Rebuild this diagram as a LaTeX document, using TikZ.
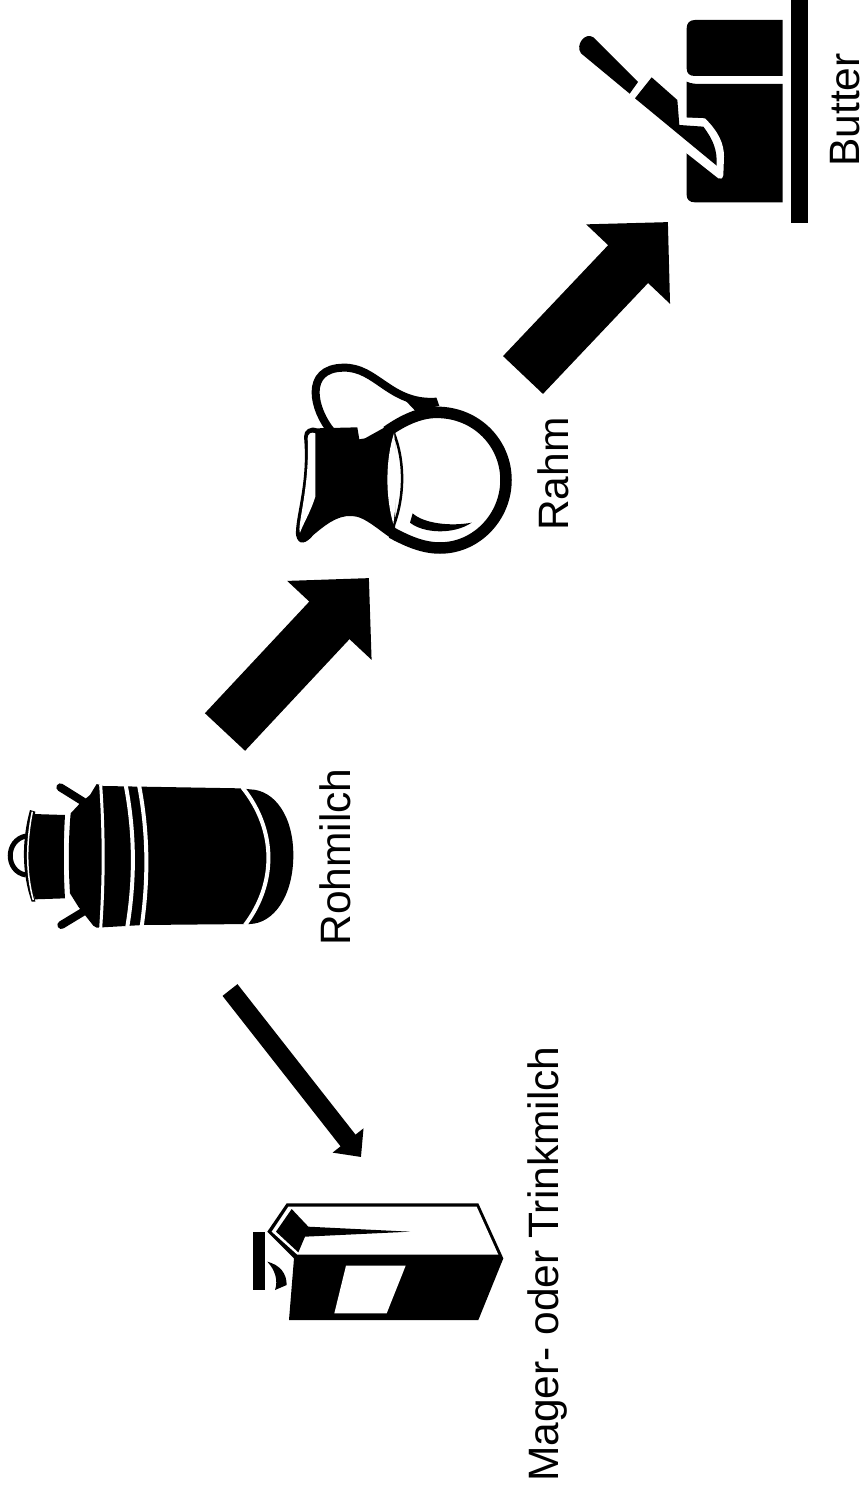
\documentclass[tikz,border=0pt]{standalone}
\usepackage{fontspec}
\setmainfont{Liberation Sans}
\usetikzlibrary{arrows.meta}
\tikzset{
  lbl/.style={rotate=90,inner sep=0pt,font=\fontsize{42.5}{50}\selectfont},
  bigarrow/.style={line width=55pt,-{Triangle[length=58pt,width=112pt]}},
  thinarrow/.style={line width=19pt,-{Triangle[length=21pt,width=38pt]}},
  zoomed/.style={scale=0.33333}
}
\begin{document}
\begin{tikzpicture}[x=1pt,y=-1pt]
\useasboundingbox (0,0) rectangle (863,1495);
% labels
\node[lbl] (rohmilch) at (335,857) {Rohmilch};
\node[lbl] (rahm) at (553,474) {Rahm};
\node[lbl] (butter) at (845,110) {Butter};
\node[lbl] (trinkmilch) at (548,1264) {Mager- oder Trinkmilch};
% arrows
\coordinate (A1) at (225,732);
\coordinate (A2) at (369,578);
\coordinate (B1) at (523,375);
\coordinate (B2) at (668,222);
\coordinate (C1) at (230,990);
\coordinate (C2) at (361,1157);
\draw[bigarrow] (A1) -- (A2);
\draw[bigarrow] (B1) -- (B2);
\draw[thinarrow] (C1) -- (C2);
% can
\begin{scope}[shift={(0,760)},zoomed]
\fill (290,72) -- (310,78) -- (720,85) -- (750,88) .. controls (825,90) and (880,170) .. (880,285) .. controls (880,410) and (820,490) .. (750,492) -- (430,495) -- (290,503) -- (280,497) -- (235,440) -- (210,400) .. controls (205,320) and (205,240) .. (212,160) -- (240,130) -- (270,105) -- cycle;
\draw[line width=8pt,line cap=round] (181,82) -- (250,125);
\draw[line width=8pt,line cap=round] (184,495) -- (250,455);
\fill (100,162) -- (195,165) .. controls (190,250) and (190,330) .. (195,415) -- (105,418) .. controls (85,340) and (85,240) .. (100,162);
\draw[line width=5pt] (78,228) .. controls (15,240) and (15,335) .. (78,345);
\fill (90,150) -- (106,155) .. controls (90,250) and (90,340) .. (106,425) -- (95,425) .. controls (65,340) and (65,240) .. (90,150);
\draw[white,line width=1.5pt] (97,155) .. controls (78,250) and (78,340) .. (100,420);
\draw[white,line width=3pt] (302,75) .. controls (312,220) and (312,360) .. (302,505);
\draw[white,line width=4pt] (377,75) .. controls (405,220) and (405,360) .. (382,500);
\draw[white,line width=4pt] (417,75) .. controls (445,220) and (445,360) .. (425,500);
\draw[white,line width=4pt] (727,82) .. controls (830,210) and (830,370) .. (735,495);
\end{scope}
% jug
\begin{scope}[shift={(280,350)},zoomed]
\draw[line width=8pt] (155,245) .. controls (100,180) and (70,55) .. (190,53) .. controls (290,50) and (330,165) .. (470,155);
\fill (375,150) -- (470,145) -- (478,168) -- (440,175) -- (410,187) -- cycle;
\draw[line width=11.5pt] (320,245) .. controls (370,210) and (420,187) .. (470,187) .. controls (590,187) and (678,280) .. (678,390) .. controls (678,500) and (590,594) .. (480,594) .. controls (430,594) and (385,575) .. (335,548);
\fill (72,260) .. controls (72,240) and (90,228) .. (110,235) -- (232,232) -- (238,268) -- (255,265) -- (345,215) -- (345,572) .. controls (300,545) and (255,498) .. (215,498) .. controls (170,495) and (130,530) .. (100,555) .. controls (80,580) and (55,590) .. (48,555) .. controls (45,500) and (85,400) .. (72,260);
\fill[white] (83,265) .. controls (83,250) and (95,245) .. (106,250) -- (106,440) .. controls (90,490) and (70,520) .. (60,548) .. controls (50,530) and (90,410) .. (83,265);
\draw[line width=2.5pt] (340,245) .. controls (375,330) and (375,440) .. (340,530);
\fill[white] (342,250) .. controls (316,330) and (316,440) .. (340,522) .. controls (352,440) and (352,330) .. (342,250);
\fill (398,490) .. controls (430,520) and (510,530) .. (575,518) .. controls (520,555) and (430,550) .. (390,518) -- cycle;
\end{scope}
% butter
\begin{scope}[shift={(570,0)},zoomed]
\fill (663,0) rectangle (715,670);
\fill (375,60) -- (638,60) -- (638,228) -- (375,228) .. controls (358,228) and (350,220) .. (350,205) -- (350,85) .. controls (350,70) and (358,60) .. (375,60);
\fill (350,245) .. controls (365,252) and (380,252) .. (400,252) -- (638,252) -- (638,607) -- (375,607) .. controls (358,607) and (350,598) .. (350,585) -- cycle;
\fill[white] (340,352) -- (405,355) .. controls (445,395) and (462,430) .. (462,470) -- (460,525) .. controls (458,537) and (450,538) .. (445,535) -- (340,452) -- cycle;
\fill (70,112) -- (204,246) -- (179,281) -- (33,160) .. controls (15,135) and (45,95) .. (70,112);
\fill (245,232) -- (322,300) -- (328,375) -- (400,380) .. controls (430,420) and (442,450) .. (440,497) -- (195,295) -- cycle;
\end{scope}
% carton
\begin{scope}[shift={(240,1190)},zoomed]
\fill (140,40) -- (715,40) -- (790,205) -- (715,390) -- (147,390) -- (162,205) -- (82,125) -- cycle;
\fill[white] (145,50) -- (710,50) -- (775,194) -- (172,194) -- (95,125) -- cycle;
\fill (155,57) -- (205,110) -- (510,125) -- (195,140) -- (175,187) -- (108,125) -- cycle;
\fill[white] (318,227) -- (497,227) -- (440,370) -- (283,370) -- cycle;
\fill (40,127) rectangle (75,300);
\fill (82,215) .. controls (120,225) and (140,250) .. (140,285) -- (105,300) .. controls (115,270) and (105,240) .. (82,215);
\end{scope}
\end{tikzpicture}
\end{document}
